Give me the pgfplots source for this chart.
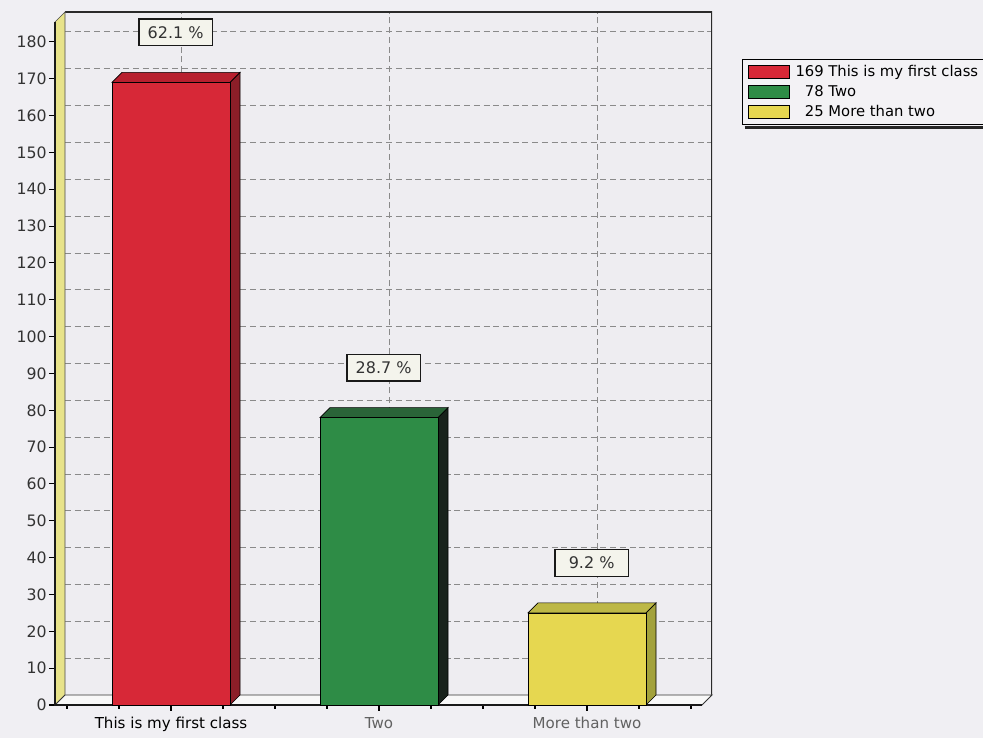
\documentclass[border=0pt]{standalone}
\usepackage{fontspec}
\setmainfont{DejaVu Sans}
\usepackage{pgfplots}
\pgfplotsset{compat=1.18}

\definecolor{pagebg}{HTML}{F0EFF3}
\definecolor{wallbg}{HTML}{EEEDF1}
\definecolor{floorbg}{HTML}{F8F8F8}
\definecolor{sidewall}{HTML}{E8E38A}
\definecolor{gridc}{HTML}{8A8A8A}
\definecolor{framec}{HTML}{2A2A2A}
\definecolor{redF}{HTML}{D72837}
\definecolor{redT}{HTML}{B8202F}
\definecolor{redS}{HTML}{8C1E28}
\definecolor{grnF}{HTML}{2E8C46}
\definecolor{grnT}{HTML}{2A6438}
\definecolor{grnS}{HTML}{18221B}
\definecolor{ylwF}{HTML}{E6D750}
\definecolor{ylwT}{HTML}{BDB846}
\definecolor{ylwS}{HTML}{A3A23C}
\definecolor{boxbg}{HTML}{F4F4EC}
\definecolor{legbg}{HTML}{F3F2F5}

\pgfplotsset{
  chartbox/.style={scale only axis, width=485.25pt, height=512.25pt,
    xmin=-0.5577, xmax=2.5529, ymin=0, ymax=185.4, anchor=south west},
  swatch/.style={legend image code/.code={%
    \draw[##1,draw=black,line width=0.6pt] (0pt,-4.9pt) rectangle (30.75pt,4.9pt);}},
  face/.style={draw=black, line width=0.5pt, forget plot},
}

\begin{document}
\begin{tikzpicture}
\useasboundingbox (0pt,0pt) rectangle (737.25pt,553.5pt);
\clip (0pt,0pt) rectangle (737.25pt,553.5pt);
\fill[pagebg] (0pt,0pt) rectangle (737.25pt,553.5pt);

% back wall with the dashed grid
\begin{axis}[chartbox, at={(48.75pt,32.25pt)},
    axis background/.style={fill=wallbg},
    axis line style={draw=none},
    xtick={0,1,2}, ytick={10,20,...,180},
    xticklabels={}, yticklabels={},
    major tick length=0pt,
    grid=major,
    major grid style={gridc, line width=0.6pt, dash pattern=on 4.5pt off 2.8pt},
  ]
  \draw[framec, line width=1.4pt] (rel axis cs:0,1) -- (rel axis cs:1,1) -- (rel axis cs:1,0);
\end{axis}

% front plane: walls, bars, labels
\begin{axis}[chartbox, at={(41.25pt,24.75pt)}, clip=false,
    axis line style={draw=none},
    tick align=outside, xtick pos=bottom, ytick pos=left,
    ytick={0,10,...,180},
    xtick={0,1,2},
    xticklabels={This is my first class, \textcolor{black!62}{Two}, \textcolor{black!62}{More than two}},
    minor xtick={-0.5,-0.25,0.25,0.5,0.75,1.25,1.5,1.75,2.25,2.5},
    major tick length=4.5pt, minor tick length=3pt,
    tick style={black, line width=0.8pt},
    /pgf/number format/assume math mode=true,
    yticklabel style={font=\fontsize{11.8}{14}\selectfont, text=black!80, inner xsep=1.5pt},
    xticklabel style={font=\fontsize{11.3}{13}\selectfont, inner ysep=4.5pt},
    legend style={at={(1.0618,0.9458)}, anchor=north west, name=leg,
      draw=black, line width=0.6pt, fill=legbg,
      font=\fontsize{11.1}{13}\selectfont,
      inner xsep=4.5pt, inner ysep=2pt,
      nodes={text height=8.5pt, text depth=2.5pt, inner ysep=2pt, inner xsep=4pt}},
    legend cell align=left,
  ]
  % left side wall
  \addplot[fill=sidewall, draw=black!70, line width=0.5pt, forget plot]
    coordinates {(-0.5577,0) (-0.5577,185.4) (-0.5096,188.115) (-0.5096,2.715)} -- cycle;
  % floor
  \addplot[fill=floorbg, draw=black!80, line width=0.7pt, forget plot]
    coordinates {(-0.5577,0) (2.5529,0) (2.6010,2.715) (-0.5096,2.715)} -- cycle;
  \draw[black!90, line width=2.2pt] (rel axis cs:0,1) -- (rel axis cs:0,0) -- (rel axis cs:1,0);

  % bar 1: 169
  \addplot[face, fill=redS] coordinates {(0.2837,0) (0.3318,2.715) (0.3318,171.715) (0.2837,169)} -- cycle;
  \addplot[face, fill=redT] coordinates {(-0.2837,169) (0.2837,169) (0.3318,171.715) (-0.2356,171.715)} -- cycle;
  % bar 2: 78
  \addplot[face, fill=grnS] coordinates {(1.2837,0) (1.3318,2.715) (1.3318,80.715) (1.2837,78)} -- cycle;
  \addplot[face, fill=grnT] coordinates {(0.7163,78) (1.2837,78) (1.3318,80.715) (0.7644,80.715)} -- cycle;
  % bar 3: 25
  \addplot[face, fill=ylwS] coordinates {(2.2837,0) (2.3318,2.715) (2.3318,27.715) (2.2837,25)} -- cycle;
  \addplot[face, fill=ylwT] coordinates {(1.7163,25) (2.2837,25) (2.3318,27.715) (1.7644,27.715)} -- cycle;

  % front faces
  \addplot[ybar, bar width=0.5674, bar shift=0pt, fill=redF, draw=black, line width=0.5pt, swatch]
    coordinates {(0,169)};
  \addlegendentry{169 This is my first class}
  \addplot[ybar, bar width=0.5674, bar shift=0pt, fill=grnF, draw=black, line width=0.5pt, swatch]
    coordinates {(1,78)};
  \addlegendentry{\hphantom{0}78 Two}
  \addplot[ybar, bar width=0.5674, bar shift=0pt, fill=ylwF, draw=black, line width=0.5pt, swatch]
    coordinates {(2,25)};
  \addlegendentry{\hphantom{0}25 More than two}

  % share labels
  \addplot[draw=none, forget plot, point meta=explicit symbolic,
    nodes near coords,
    every node near coord/.style={anchor=center, yshift=37.5pt, xshift=3.5pt,
      draw=black!90, line width=1pt, fill=boxbg, text=black!80,
      font=\fontsize{12}{15}\selectfont, minimum width=55pt, minimum height=20pt, inner sep=1pt}]
    coordinates {(0,169) [62.1 \%] (1,78) [28.7 \%] (2,25) [9.2 \%]};
\end{axis}
% legend shadow along its lower edge
\draw[black!85, line width=2.4pt] ([xshift=2pt,yshift=-1.5pt]leg.south west) -- ([xshift=2pt,yshift=-1.5pt]leg.south east);
\end{tikzpicture}
\end{document}
